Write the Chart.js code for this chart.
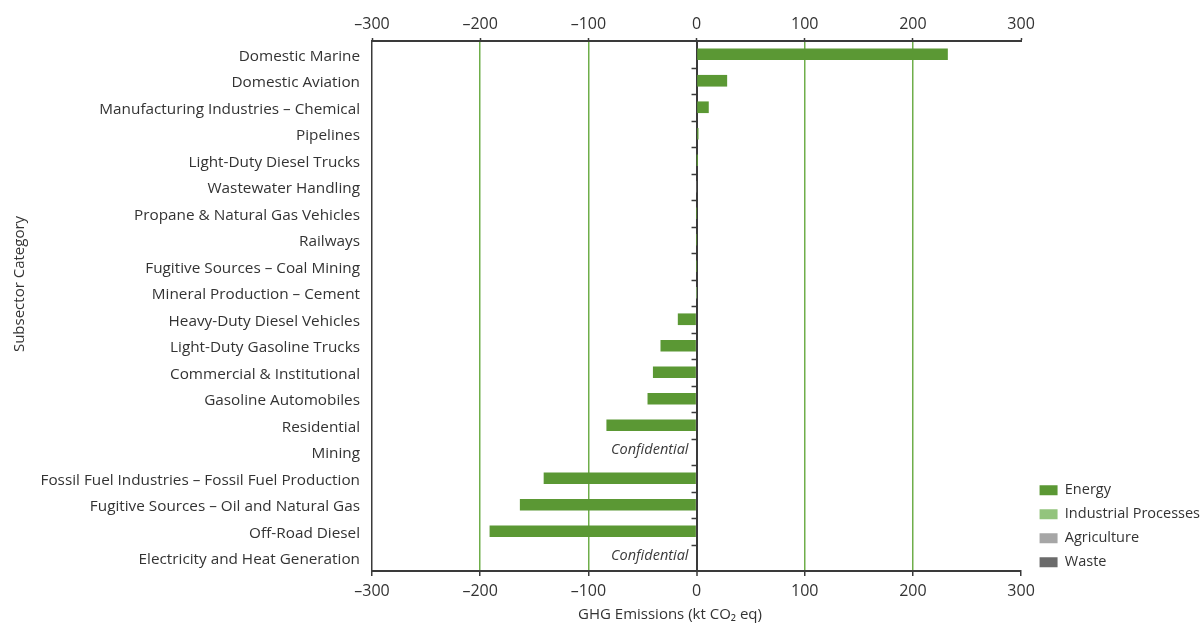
<!DOCTYPE html>
<html>
<head>
<meta charset="utf-8">
<script src="https://cdn.jsdelivr.net/npm/chart.js@4/dist/chart.umd.min.js"></script>
<style>
  html, body { margin: 0; padding: 0; background: #ffffff; overflow: hidden; }
  #wrap { width: 1202px; height: 623px; position: relative; }
</style>
</head>
<body>
<div id="wrap"><canvas id="c"></canvas></div>
<script>
// Subsector categories, top to bottom
const subsectors = [
  'Domestic Marine',
  'Domestic Aviation',
  'Manufacturing Industries \u2013 Chemical',
  'Pipelines',
  'Light-Duty Diesel Trucks',
  'Wastewater Handling',
  'Propane & Natural Gas Vehicles',
  'Railways',
  'Fugitive Sources \u2013 Coal Mining',
  'Mineral Production \u2013 Cement',
  'Heavy-Duty Diesel Vehicles',
  'Light-Duty Gasoline Trucks',
  'Commercial & Institutional',
  'Gasoline Automobiles',
  'Residential',
  'Mining',
  'Fossil Fuel Industries \u2013 Fossil Fuel Production',
  'Fugitive Sources \u2013 Oil and Natural Gas',
  'Off-Road Diesel',
  'Electricity and Heat Generation'
];

// GHG emission change by sector (kt CO2 eq); null where no bar is shown
const energy      = [232, 28, 11, 1.5, 0.4, null, 0, 0, 0, null, -17, -33, -40, -45, -83, null, -141, -163, -191, null];
const industrial  = [null, null, null, null, null, null, null, null, null, 0, null, null, null, null, null, null, null, null, null, null];
const agriculture = [null, null, null, null, null, null, null, null, null, null, null, null, null, null, null, null, null, null, null, null];
const waste       = [null, null, null, null, null, 0, null, null, null, null, null, null, null, null, null, null, null, null, null, null];

// Subsectors whose values are withheld
const confidential = ['Mining', 'Electricity and Heat Generation'];

const xMin = -300, xMax = 300, xStep = 100;

const TEXT = '#333333';
const AXIS = '#3a3a3a';
const FONT = "'Open Sans', 'Noto Sans', sans-serif";
const GREEN = '#5b9834';
const GRID_GREEN = '#6fae4a';

const fmtTick = v => (v < 0 ? '\u2013' + Math.abs(v) : String(v));

// Extra drawing: zero-line tick marks, "Confidential" notes, axis titles
const extras = {
  id: 'extras',
  afterLayout(chart) {
    // nudge the legend block into its place beside the plot
    const lg = chart.legend;
    if (lg) {
      lg.left += 9; lg.right += 9;
      lg.top += 8; lg.bottom += 8;
    }
  },
  afterDatasetsDraw(chart) {
    const { ctx, chartArea, scales } = chart;
    const x0 = scales.x.getPixelForValue(0);
    const ys = scales.y;
    const band = (chartArea.bottom - chartArea.top) / subsectors.length;
    ctx.save();
    ctx.strokeStyle = AXIS;
    ctx.lineWidth = 1.5;
    for (let i = 1; i < subsectors.length; i++) {
      const y = Math.round(chartArea.top + band * i) + 0.5;
      ctx.beginPath();
      ctx.moveTo(x0 - 5, y);
      ctx.lineTo(x0, y);
      ctx.stroke();
    }
    ctx.fillStyle = '#3a3a3a';
    ctx.font = "italic 14.5px " + FONT;
    ctx.textAlign = 'right';
    ctx.textBaseline = 'middle';
    confidential.forEach(name => {
      const idx = subsectors.indexOf(name);
      ctx.fillText('Confidential', x0 - 8, ys.getPixelForValue(idx) - 2);
    });
    ctx.restore();
  },
  afterDraw(chart) {
    const { ctx } = chart;
    ctx.save();
    ctx.fillStyle = TEXT;
    ctx.font = "15px " + FONT;
    ctx.textAlign = 'center';
    ctx.textBaseline = 'middle';
    ctx.fillText('GHG Emissions (kt CO\u2082 eq)', 670, 615);
    ctx.translate(20, 284);
    ctx.rotate(-Math.PI / 2);
    ctx.fillText('Subsector Category', 0, 0);
    ctx.restore();
  }
};

const ds = (label, data, color) => ({
  label, data,
  backgroundColor: color,
  borderWidth: 0,
  barThickness: 11,
  stack: 'all'
});

new Chart(document.getElementById('c'), {
  type: 'bar',
  data: {
    labels: subsectors,
    datasets: [
      ds('Energy', energy, GREEN),
      ds('Industrial Processes', industrial, '#93c47d'),
      ds('Agriculture', agriculture, '#a6a6a6'),
      ds('Waste', waste, '#6b6b6b')
    ]
  },
  options: {
    indexAxis: 'y',
    responsive: true,
    maintainAspectRatio: false,
    animation: false,
    layout: { padding: { left: 0, right: 1, top: 0, bottom: 0 } },
    scales: {
      x: {
        type: 'linear',
        position: 'bottom',
        stacked: true,
        min: xMin, max: xMax,
        ticks: { stepSize: xStep, color: TEXT, font: { family: FONT, size: 16 }, padding: 6, callback: fmtTick },
        grid: {
          color: c => (c.tick && c.tick.value === 0 ? AXIS : (Math.abs(c.tick.value) === 300 ? 'rgba(0,0,0,0)' : GRID_GREEN)),
          lineWidth: c => (c.tick && c.tick.value === 0 ? 2 : 1.5),
          tickColor: AXIS,
          tickLength: 5,
          tickWidth: 1.5
        },
        border: { color: AXIS, width: 2 },
        afterFit: s => { s.height = 52; }
      },
      x2: {
        type: 'linear',
        position: 'top',
        min: xMin, max: xMax,
        ticks: { stepSize: xStep, color: TEXT, font: { family: FONT, size: 16 }, padding: 4, callback: fmtTick },
        grid: { drawOnChartArea: false, drawTicks: true, tickLength: 3, tickColor: AXIS, tickWidth: 1.5 },
        border: { color: AXIS, width: 2 },
        afterFit: s => { s.height = 41; }
      },
      y: {
        stacked: true,
        ticks: { color: TEXT, font: { family: FONT, size: 15.3 }, padding: 12, labelOffset: 2, autoSkip: false },
        grid: { display: false, drawTicks: false },
        border: { display: true, color: AXIS, width: 1.5 },
        afterFit: s => { s.width = 372; }
      }
    },
    plugins: {
      legend: {
        position: 'right',
        align: 'end',
        fullSize: false,
        labels: {
          color: TEXT,
          font: { family: FONT, size: 14.5 },
          boxWidth: 18,
          boxHeight: 10,
          padding: 9.5
        }
      },
      tooltip: { enabled: false }
    }
  },
  plugins: [extras]
});
</script>
</body>
</html>
